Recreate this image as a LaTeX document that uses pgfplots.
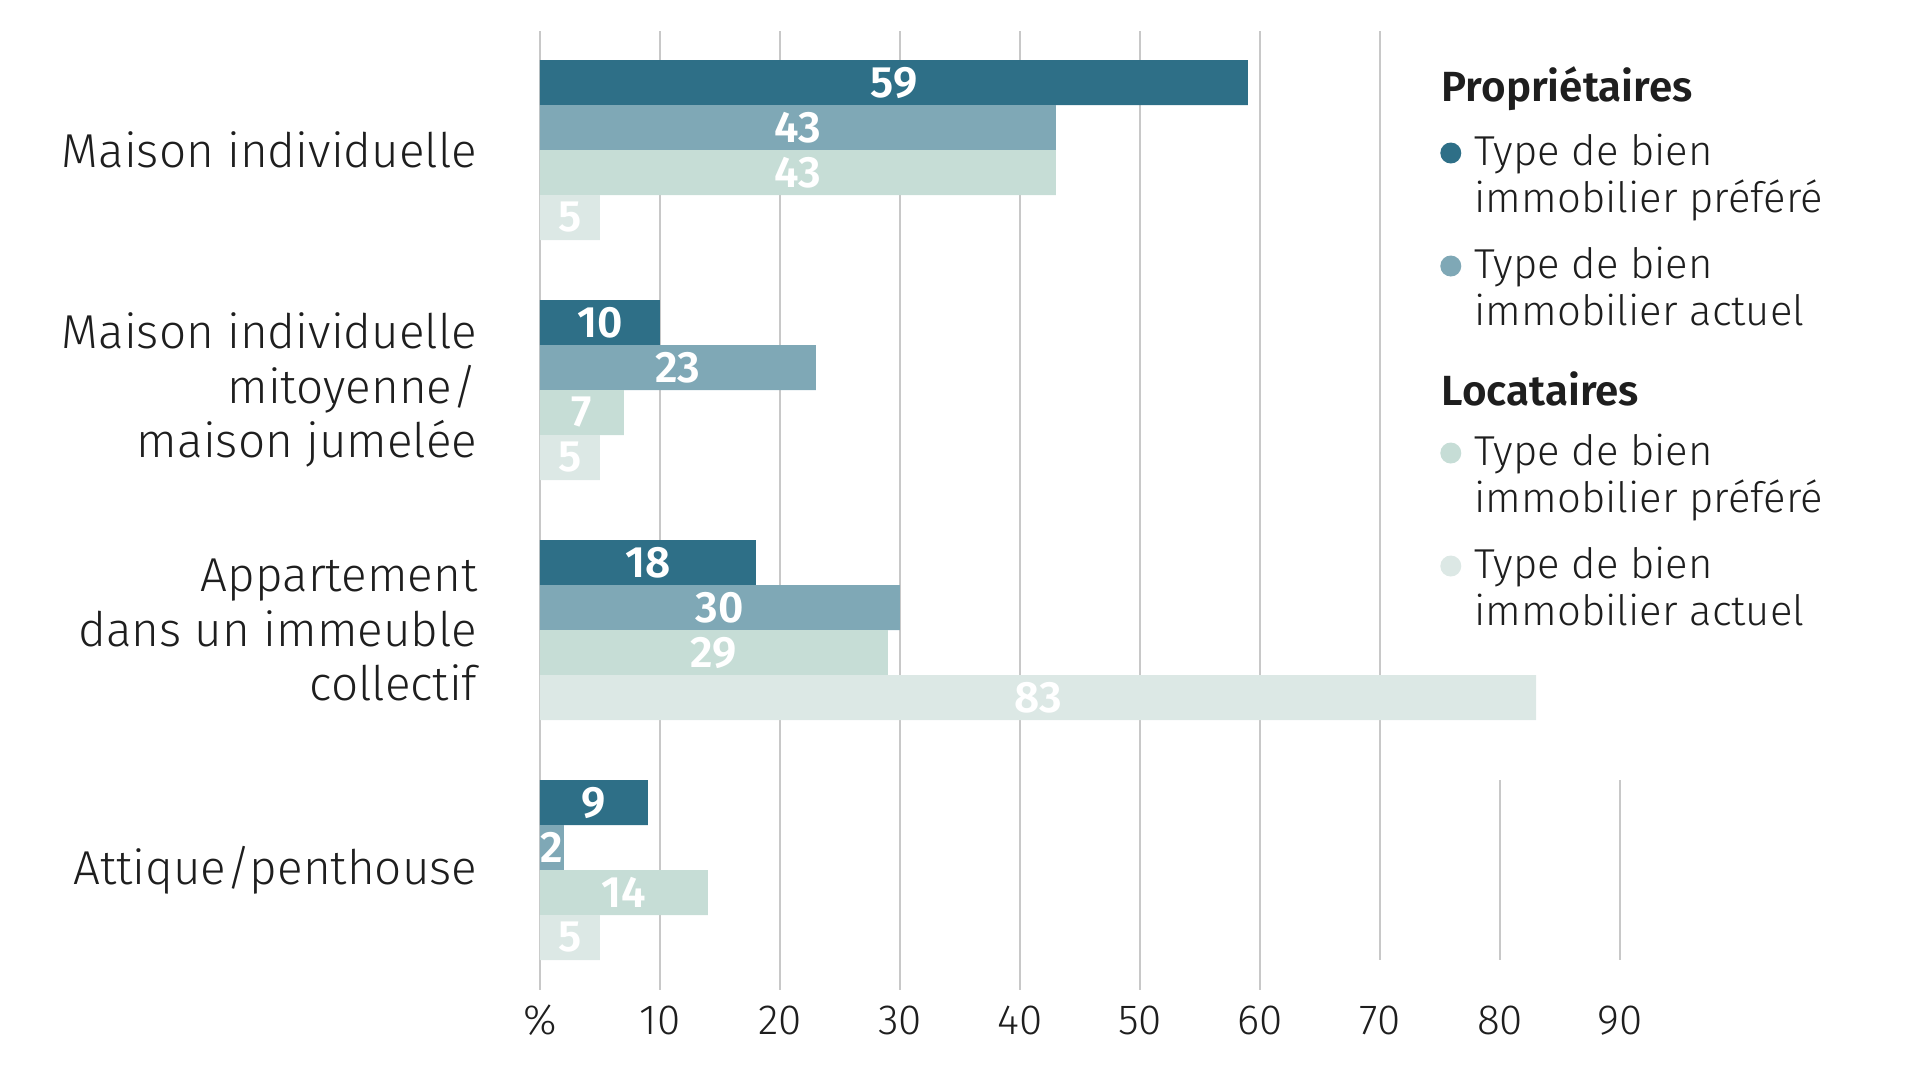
\documentclass[border=0pt]{standalone}
\usepackage{fontspec}
\setmainfont{Fira Sans Light}[BoldFont={Fira Sans SemiBold}]
\usepackage{pgfplots}
\pgfplotsset{compat=1.18}
\definecolor{c1}{HTML}{2E6F87}
\definecolor{c2}{HTML}{7FA8B6}
\definecolor{c3}{HTML}{C6DDD6}
\definecolor{c4}{HTML}{DCE8E5}
\definecolor{gridc}{HTML}{C8C8C8}
\definecolor{txt}{HTML}{1E1E1E}
\begin{document}
\begin{tikzpicture}
\begin{axis}[
 scale only axis, width=108mm, height=95.9mm,
 xmin=0, xmax=90, ymin=-990, ymax=-31,
 clip=false,
 axis line style={draw=none},
 major tick length=0pt,
 xtick={0,10,...,90},
 xticklabels={\%,10,20,30,40,50,60,70,80,90},
 xticklabel style={anchor=base, yshift=-4.4mm, inner sep=0pt, font=\fontsize{12}{14}\selectfont, text=txt},
 ytick={-150,-390,-630,-870},
 yticklabels={{Maison individuelle},{Maison individuelle\\mitoyenne/\\maison jumelée},{Appartement\\dans un immeuble\\collectif},{Attique/penthouse}},
 yticklabel style={align=right, anchor=east, inner sep=0pt, xshift=-6.2mm, font=\fontsize{13.55}{15.4}\selectfont, text=txt},
 /pgf/number format/assume math mode=true,
 xbar, bar width=45, bar shift=0pt,
 point meta=x,
 nodes near coords,
 visualization depends on={rawx \as \myx},
 every node near coord/.style={anchor=center, xshift={-0.6mm*\myx}, font=\fontsize{12.5}{14}\selectfont\bfseries, text=white, inner sep=0pt},
]
\path (axis cs:-45,-1080) rectangle (axis cs:115,0);
\pgfplotsinvokeforeach{0,10,...,60}{\draw[gridc, line width=0.6pt] (axis cs:#1,-31) -- (axis cs:#1,-990);}
\draw[gridc, line width=0.6pt] (axis cs:70,-31) -- (axis cs:70,-960);
\draw[gridc, line width=0.6pt] (axis cs:80,-780) -- (axis cs:80,-960);
\draw[gridc, line width=0.6pt] (axis cs:90,-780) -- (axis cs:90,-960);
\addplot[fill=c1, draw=none] coordinates {(59,-82.5) (10,-322.5) (18,-562.5) (9,-802.5)};
\addplot[fill=c2, draw=none] coordinates {(43,-127.5) (23,-367.5) (30,-607.5) (2,-847.5)};
\addplot[fill=c3, draw=none] coordinates {(43,-172.5) (7,-412.5) (29,-652.5) (14,-892.5)};
\addplot[fill=c4, draw=none] coordinates {(5,-217.5) (5,-457.5) (83,-697.5) (5,-937.5)};
% legend
\node[anchor=west, font=\fontsize{12}{15}\selectfont\bfseries, text=txt, inner sep=0pt] at (axis cs:75.08,-89) {Propriétaires};
\node[anchor=west, font=\fontsize{12}{15}\selectfont\bfseries, text=txt, inner sep=0pt] at (axis cs:75.08,-389) {Locataires};
\fill[c1] (axis cs:75.9,-153) circle[radius=1.05mm];
\fill[c2] (axis cs:75.9,-266) circle[radius=1.05mm];
\fill[c3] (axis cs:75.9,-453) circle[radius=1.05mm];
\fill[c4] (axis cs:75.9,-566) circle[radius=1.05mm];
\begin{scope}[every node/.style={anchor=base west, font=\fontsize{11.9}{13.2}\selectfont, text=txt, inner sep=0pt}]
\node at (axis cs:77.83,-165) {Type de bien};
\node at (axis cs:77.83,-212) {immobilier préféré};
\node at (axis cs:77.83,-278) {Type de bien};
\node at (axis cs:77.83,-325) {immobilier actuel};
\node at (axis cs:77.83,-465) {Type de bien};
\node at (axis cs:77.83,-512) {immobilier préféré};
\node at (axis cs:77.83,-578) {Type de bien};
\node at (axis cs:77.83,-625) {immobilier actuel};
\end{scope}
\end{axis}
\end{tikzpicture}
\end{document}
